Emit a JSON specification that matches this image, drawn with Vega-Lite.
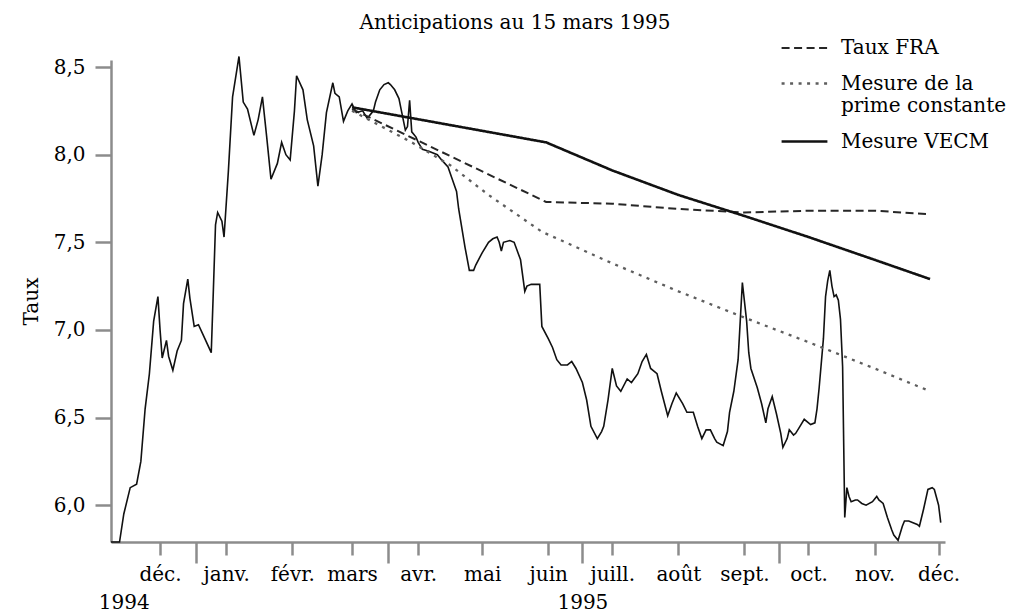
{
  "$schema": "https://vega.github.io/schema/vega-lite/v6.json",
  "width": 834,
  "height": 482,
  "autosize": {"type": "none"},
  "padding": {"left": 111, "top": 60, "right": 69, "bottom": 71},
  "background": "white",
  "config": {"view": {"stroke": null}, "font": "DejaVu Serif"},
  "title": {"text": "Anticipations au 15 mars 1995", "font": "DejaVu Serif", "fontSize": 20, "fontWeight": "normal", "color": "black", "baseline": "alphabetic", "offset": -25, "dx": -13, "anchor": "middle"},
  "datasets": {
    "obs": [
      {"date": "1994-11-22", "value": 5.79}, {"date": "1994-11-26", "value": 5.79}, {"date": "1994-11-28", "value": 5.95},
      {"date": "1994-12-01", "value": 6.10}, {"date": "1994-12-04", "value": 6.12}, {"date": "1994-12-06", "value": 6.25},
      {"date": "1994-12-08", "value": 6.55}, {"date": "1994-12-10", "value": 6.75}, {"date": "1994-12-12", "value": 7.05},
      {"date": "1994-12-14", "value": 7.19}, {"date": "1994-12-15", "value": 7.00}, {"date": "1994-12-16", "value": 6.84},
      {"date": "1994-12-18", "value": 6.94}, {"date": "1994-12-19", "value": 6.85}, {"date": "1994-12-21", "value": 6.77},
      {"date": "1994-12-23", "value": 6.88}, {"date": "1994-12-25", "value": 6.94}, {"date": "1994-12-26", "value": 7.15},
      {"date": "1994-12-28", "value": 7.29}, {"date": "1994-12-29", "value": 7.18}, {"date": "1994-12-31", "value": 7.02},
      {"date": "1995-01-02", "value": 7.03}, {"date": "1995-01-05", "value": 6.95}, {"date": "1995-01-08", "value": 6.87},
      {"date": "1995-01-09", "value": 7.23}, {"date": "1995-01-10", "value": 7.60}, {"date": "1995-01-11", "value": 7.67},
      {"date": "1995-01-13", "value": 7.62}, {"date": "1995-01-14", "value": 7.53}, {"date": "1995-01-16", "value": 7.90},
      {"date": "1995-01-18", "value": 8.33}, {"date": "1995-01-21", "value": 8.56}, {"date": "1995-01-23", "value": 8.30},
      {"date": "1995-01-25", "value": 8.26}, {"date": "1995-01-28", "value": 8.11}, {"date": "1995-01-30", "value": 8.20},
      {"date": "1995-02-01", "value": 8.33}, {"date": "1995-02-03", "value": 8.10}, {"date": "1995-02-05", "value": 7.86},
      {"date": "1995-02-08", "value": 7.95}, {"date": "1995-02-10", "value": 8.07}, {"date": "1995-02-12", "value": 8.00},
      {"date": "1995-02-14", "value": 7.97}, {"date": "1995-02-16", "value": 8.25}, {"date": "1995-02-17", "value": 8.45},
      {"date": "1995-02-20", "value": 8.37}, {"date": "1995-02-22", "value": 8.20}, {"date": "1995-02-25", "value": 8.05},
      {"date": "1995-02-27", "value": 7.82}, {"date": "1995-03-01", "value": 8.00}, {"date": "1995-03-03", "value": 8.24},
      {"date": "1995-03-06", "value": 8.41}, {"date": "1995-03-07", "value": 8.35}, {"date": "1995-03-09", "value": 8.33},
      {"date": "1995-03-11", "value": 8.19}, {"date": "1995-03-13", "value": 8.25}, {"date": "1995-03-15", "value": 8.29},
      {"date": "1995-03-17", "value": 8.24}, {"date": "1995-03-20", "value": 8.25}, {"date": "1995-03-22", "value": 8.21},
      {"date": "1995-03-23", "value": 8.22}, {"date": "1995-03-25", "value": 8.25}, {"date": "1995-03-26", "value": 8.30},
      {"date": "1995-03-28", "value": 8.37}, {"date": "1995-03-30", "value": 8.40}, {"date": "1995-04-01", "value": 8.41},
      {"date": "1995-04-02", "value": 8.40}, {"date": "1995-04-04", "value": 8.37}, {"date": "1995-04-06", "value": 8.32},
      {"date": "1995-04-07", "value": 8.26}, {"date": "1995-04-09", "value": 8.14}, {"date": "1995-04-10", "value": 8.16},
      {"date": "1995-04-11", "value": 8.31}, {"date": "1995-04-12", "value": 8.13}, {"date": "1995-04-14", "value": 8.10},
      {"date": "1995-04-15", "value": 8.07}, {"date": "1995-04-17", "value": 8.03}, {"date": "1995-04-20", "value": 8.02},
      {"date": "1995-04-24", "value": 8.00}, {"date": "1995-04-26", "value": 7.97}, {"date": "1995-04-29", "value": 7.93},
      {"date": "1995-05-01", "value": 7.86}, {"date": "1995-05-03", "value": 7.79}, {"date": "1995-05-04", "value": 7.69},
      {"date": "1995-05-07", "value": 7.47}, {"date": "1995-05-09", "value": 7.34}, {"date": "1995-05-11", "value": 7.34},
      {"date": "1995-05-12", "value": 7.37}, {"date": "1995-05-15", "value": 7.44}, {"date": "1995-05-18", "value": 7.50},
      {"date": "1995-05-20", "value": 7.52}, {"date": "1995-05-22", "value": 7.53}, {"date": "1995-05-23", "value": 7.50},
      {"date": "1995-05-24", "value": 7.45}, {"date": "1995-05-25", "value": 7.50}, {"date": "1995-05-28", "value": 7.51},
      {"date": "1995-05-30", "value": 7.50}, {"date": "1995-06-02", "value": 7.40}, {"date": "1995-06-04", "value": 7.22},
      {"date": "1995-06-05", "value": 7.25}, {"date": "1995-06-07", "value": 7.26}, {"date": "1995-06-11", "value": 7.26},
      {"date": "1995-06-12", "value": 7.02}, {"date": "1995-06-15", "value": 6.95}, {"date": "1995-06-17", "value": 6.90},
      {"date": "1995-06-19", "value": 6.83}, {"date": "1995-06-21", "value": 6.80}, {"date": "1995-06-24", "value": 6.80},
      {"date": "1995-06-26", "value": 6.82}, {"date": "1995-06-28", "value": 6.78}, {"date": "1995-07-01", "value": 6.70},
      {"date": "1995-07-03", "value": 6.60}, {"date": "1995-07-05", "value": 6.45}, {"date": "1995-07-08", "value": 6.38},
      {"date": "1995-07-10", "value": 6.42}, {"date": "1995-07-11", "value": 6.45}, {"date": "1995-07-13", "value": 6.60},
      {"date": "1995-07-15", "value": 6.78}, {"date": "1995-07-17", "value": 6.68}, {"date": "1995-07-19", "value": 6.65},
      {"date": "1995-07-22", "value": 6.72}, {"date": "1995-07-24", "value": 6.70}, {"date": "1995-07-27", "value": 6.75},
      {"date": "1995-07-29", "value": 6.82}, {"date": "1995-07-31", "value": 6.86}, {"date": "1995-08-02", "value": 6.78},
      {"date": "1995-08-05", "value": 6.75}, {"date": "1995-08-07", "value": 6.65}, {"date": "1995-08-10", "value": 6.51},
      {"date": "1995-08-12", "value": 6.58}, {"date": "1995-08-14", "value": 6.64}, {"date": "1995-08-17", "value": 6.58},
      {"date": "1995-08-19", "value": 6.53}, {"date": "1995-08-22", "value": 6.53}, {"date": "1995-08-24", "value": 6.45},
      {"date": "1995-08-26", "value": 6.38}, {"date": "1995-08-28", "value": 6.43}, {"date": "1995-08-30", "value": 6.43},
      {"date": "1995-09-01", "value": 6.38}, {"date": "1995-09-02", "value": 6.36}, {"date": "1995-09-05", "value": 6.34},
      {"date": "1995-09-07", "value": 6.42}, {"date": "1995-09-08", "value": 6.53}, {"date": "1995-09-10", "value": 6.65},
      {"date": "1995-09-12", "value": 6.83}, {"date": "1995-09-13", "value": 7.05}, {"date": "1995-09-14", "value": 7.27},
      {"date": "1995-09-16", "value": 7.05}, {"date": "1995-09-17", "value": 6.87}, {"date": "1995-09-18", "value": 6.78},
      {"date": "1995-09-21", "value": 6.67}, {"date": "1995-09-23", "value": 6.58}, {"date": "1995-09-25", "value": 6.47},
      {"date": "1995-09-26", "value": 6.55}, {"date": "1995-09-28", "value": 6.62}, {"date": "1995-09-30", "value": 6.52},
      {"date": "1995-10-02", "value": 6.41}, {"date": "1995-10-03", "value": 6.33}, {"date": "1995-10-05", "value": 6.38},
      {"date": "1995-10-06", "value": 6.43}, {"date": "1995-10-08", "value": 6.40}, {"date": "1995-10-09", "value": 6.41},
      {"date": "1995-10-11", "value": 6.45}, {"date": "1995-10-13", "value": 6.49}, {"date": "1995-10-16", "value": 6.46},
      {"date": "1995-10-18", "value": 6.47}, {"date": "1995-10-19", "value": 6.55}, {"date": "1995-10-20", "value": 6.67},
      {"date": "1995-10-22", "value": 6.95}, {"date": "1995-10-23", "value": 7.19}, {"date": "1995-10-24", "value": 7.28},
      {"date": "1995-10-25", "value": 7.34}, {"date": "1995-10-26", "value": 7.25}, {"date": "1995-10-27", "value": 7.19},
      {"date": "1995-10-28", "value": 7.20}, {"date": "1995-10-29", "value": 7.17}, {"date": "1995-10-30", "value": 7.06},
      {"date": "1995-10-31", "value": 6.79}, {"date": "1995-11-01", "value": 5.93}, {"date": "1995-11-02", "value": 6.10},
      {"date": "1995-11-03", "value": 6.05}, {"date": "1995-11-04", "value": 6.02}, {"date": "1995-11-06", "value": 6.03},
      {"date": "1995-11-07", "value": 6.03}, {"date": "1995-11-09", "value": 6.01}, {"date": "1995-11-11", "value": 6.00},
      {"date": "1995-11-14", "value": 6.02}, {"date": "1995-11-16", "value": 6.05}, {"date": "1995-11-17", "value": 6.03},
      {"date": "1995-11-19", "value": 6.01}, {"date": "1995-11-21", "value": 5.93}, {"date": "1995-11-23", "value": 5.86},
      {"date": "1995-11-24", "value": 5.83}, {"date": "1995-11-26", "value": 5.80}, {"date": "1995-11-28", "value": 5.88},
      {"date": "1995-11-29", "value": 5.91}, {"date": "1995-12-01", "value": 5.91}, {"date": "1995-12-03", "value": 5.90},
      {"date": "1995-12-05", "value": 5.89}, {"date": "1995-12-06", "value": 5.88}, {"date": "1995-12-08", "value": 5.98},
      {"date": "1995-12-10", "value": 6.09}, {"date": "1995-12-12", "value": 6.10}, {"date": "1995-12-13", "value": 6.09},
      {"date": "1995-12-15", "value": 6.00}, {"date": "1995-12-16", "value": 5.90}
    ],
    "fc": [
      {"date": "1995-03-15", "value": 8.26, "series": "Taux FRA"},
      {"date": "1995-06-14", "value": 7.73, "series": "Taux FRA"},
      {"date": "1995-07-15", "value": 7.72, "series": "Taux FRA"},
      {"date": "1995-08-15", "value": 7.69, "series": "Taux FRA"},
      {"date": "1995-09-15", "value": 7.67, "series": "Taux FRA"},
      {"date": "1995-10-15", "value": 7.68, "series": "Taux FRA"},
      {"date": "1995-11-15", "value": 7.68, "series": "Taux FRA"},
      {"date": "1995-12-11", "value": 7.66, "series": "Taux FRA"},
      {"date": "1995-03-15", "value": 8.25, "series": "Mesure de la prime constante"},
      {"date": "1995-04-12", "value": 8.07, "series": "Mesure de la prime constante"},
      {"date": "1995-04-30", "value": 7.94, "series": "Mesure de la prime constante"},
      {"date": "1995-05-18", "value": 7.77, "series": "Mesure de la prime constante"},
      {"date": "1995-06-12", "value": 7.56, "series": "Mesure de la prime constante"},
      {"date": "1995-07-15", "value": 7.38, "series": "Mesure de la prime constante"},
      {"date": "1995-08-15", "value": 7.22, "series": "Mesure de la prime constante"},
      {"date": "1995-09-15", "value": 7.07, "series": "Mesure de la prime constante"},
      {"date": "1995-10-15", "value": 6.93, "series": "Mesure de la prime constante"},
      {"date": "1995-11-15", "value": 6.78, "series": "Mesure de la prime constante"},
      {"date": "1995-12-11", "value": 6.65, "series": "Mesure de la prime constante"},
      {"date": "1995-03-15", "value": 8.27, "series": "Mesure VECM"},
      {"date": "1995-06-14", "value": 8.07, "series": "Mesure VECM"},
      {"date": "1995-07-15", "value": 7.91, "series": "Mesure VECM"},
      {"date": "1995-08-15", "value": 7.77, "series": "Mesure VECM"},
      {"date": "1995-09-15", "value": 7.65, "series": "Mesure VECM"},
      {"date": "1995-10-15", "value": 7.53, "series": "Mesure VECM"},
      {"date": "1995-11-15", "value": 7.40, "series": "Mesure VECM"},
      {"date": "1995-12-11", "value": 7.29, "series": "Mesure VECM"}
    ]
  },
  "encoding": {
    "y": {
      "field": "value", "type": "quantitative",
      "scale": {"domain": [5.79, 8.54], "nice": false, "zero": false},
      "axis": {
        "title": "Taux", "titleFont": "DejaVu Serif", "titleFontSize": 20, "titleFontWeight": "normal", "titleColor": "black", "titlePadding": 12,
        "values": [6, 6.5, 7, 7.5, 8, 8.5],
        "labelExpr": "replace(format(datum.value, '.1f'), '.', ',')",
        "labelFont": "DejaVu Serif", "labelFontSize": 20, "labelColor": "black", "labelPadding": 10,
        "tickSize": 16, "tickColor": "#8c8c8c", "tickWidth": 2.5,
        "domainColor": "#8c8c8c", "domainWidth": 2.5, "grid": false
      }
    }
  },
  "layer": [
    {
      "data": {"name": "obs"},
      "mark": {"type": "line", "color": "#111111", "strokeWidth": 1.6},
      "encoding": {
        "x": {
          "field": "date", "type": "temporal",
          "scale": {"type": "utc", "domain": [{"year": 1994, "month": 11, "date": 22, "utc": true}, {"year": 1995, "month": 12, "date": 18, "utc": true}]},
          "axis": {
            "orient": "bottom", "title": null, "grid": false,
            "values": [
              {"year": 1994, "month": 12, "date": 15, "utc": true},
              {"year": 1995, "month": 1, "date": 15, "utc": true},
              {"year": 1995, "month": 2, "date": 15, "utc": true},
              {"year": 1995, "month": 3, "date": 15, "utc": true},
              {"year": 1995, "month": 4, "date": 15, "utc": true},
              {"year": 1995, "month": 5, "date": 15, "utc": true},
              {"year": 1995, "month": 6, "date": 15, "utc": true},
              {"year": 1995, "month": 7, "date": 15, "utc": true},
              {"year": 1995, "month": 8, "date": 15, "utc": true},
              {"year": 1995, "month": 9, "date": 15, "utc": true},
              {"year": 1995, "month": 10, "date": 15, "utc": true},
              {"year": 1995, "month": 11, "date": 15, "utc": true},
              {"year": 1995, "month": 12, "date": 15, "utc": true}
            ],
            "labelExpr": "['janv.','févr.','mars','avr.','mai','juin','juill.','août','sept.','oct.','nov.','déc.'][utcmonth(datum.value)]",
            "labelFont": "DejaVu Serif", "labelFontSize": 20, "labelColor": "black",
            "labelBaseline": "alphabetic", "labelPadding": 25, "labelOverlap": false, "labelFlush": false, "labelBound": false,
            "tickSize": 13, "tickColor": "#8c8c8c", "tickWidth": 2.5,
            "domainColor": "#8c8c8c", "domainWidth": 2.5
          }
        }
      }
    },
    {
      "data": {"name": "fc"},
      "mark": {"type": "line", "strokeCap": "butt"},
      "encoding": {
        "x": {
          "field": "date", "type": "temporal",
          "scale": {"type": "utc", "domain": [{"year": 1994, "month": 11, "date": 22, "utc": true}, {"year": 1995, "month": 12, "date": 18, "utc": true}]},
          "axis": {
            "orient": "bottom", "title": null, "grid": false, "domain": false,
            "values": [
              {"year": 1994, "month": 11, "date": 28, "utc": true},
              {"year": 1995, "month": 1, "date": 1, "utc": true},
              {"year": 1995, "month": 4, "date": 1, "utc": true},
              {"year": 1995, "month": 7, "date": 1, "utc": true},
              {"year": 1995, "month": 10, "date": 1, "utc": true}
            ],
            "labelExpr": "(utcmonth(datum.value) == 10 || utcmonth(datum.value) == 6) ? (utcyear(datum.value) + '') : ''",
            "labelFont": "DejaVu Serif", "labelFontSize": 20, "labelColor": "black",
            "labelBaseline": "alphabetic", "labelPadding": 45, "labelOverlap": false, "labelFlush": false, "labelBound": false,
            "tickSize": 21, "tickColor": "#8c8c8c", "tickWidth": 2.5,
            "tickOpacity": {"condition": {"test": "utcyear(datum.value) == 1994", "value": 0}, "value": 1}
          }
        },
        "color": {
          "field": "series", "type": "nominal",
          "scale": {"domain": ["Taux FRA", "Mesure de la prime constante", "Mesure VECM"], "range": ["#262626", "#5e5e5e", "#111111"]},
          "legend": {
            "orient": "none", "legendX": 669, "legendY": -36, "title": null, "padding": 0,
            "labelFont": "DejaVu Serif", "labelFontSize": 20, "labelColor": "black", "labelLimit": 400, "labelOffset": 12,
            "labelExpr": "datum.label == 'Mesure de la prime constante' ? ['Mesure de la', 'prime constante'] : datum.label",
            "symbolSize": 2100, "rowPadding": 1, "symbolType": "stroke"
          }
        },
        "strokeDash": {
          "field": "series", "type": "nominal",
          "scale": {"domain": ["Taux FRA", "Mesure de la prime constante", "Mesure VECM"], "range": [[8, 4.5], [3, 5.5], [1, 0]]}
        },
        "strokeWidth": {
          "field": "series", "type": "nominal",
          "scale": {"domain": ["Taux FRA", "Mesure de la prime constante", "Mesure VECM"], "range": [2, 2.6, 2.8]}
        }
      }
    }
  ],
  "resolve": {"axis": {"x": "independent"}}
}
